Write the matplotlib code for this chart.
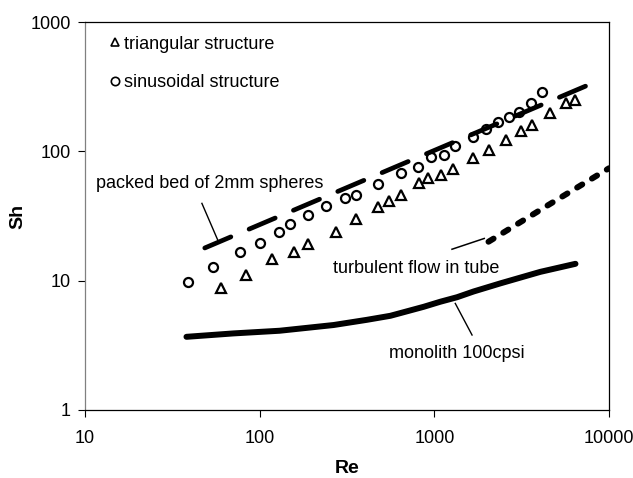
import matplotlib
matplotlib.use("Agg")
import matplotlib.pyplot as plt
from matplotlib.lines import Line2D

plt.rcParams['font.family'] = ['Liberation Sans', 'DejaVu Sans']

# ---- data ----
re_sin = [38.9, 54, 77, 100, 129, 150, 189, 240, 306, 357, 474, 645, 803, 958, 1140,
          1318, 1656, 1974, 2300, 2683, 3060, 3572, 4125]
sh_sin = [9.8, 12.8, 16.7, 19.5, 23.9, 27.2, 32.1, 37.8, 43.4, 45.9, 55.8, 67.6, 76,
          90.8, 93.6, 110, 128, 148, 169, 185, 202, 235, 289]

re_tri = [60, 83, 118, 157, 189, 274, 354, 474, 553, 645, 813, 915, 1092, 1272, 1656,
          2061, 2588, 3126, 3645, 4582, 5657, 6395]
sh_tri = [8.7, 11.0, 14.6, 16.7, 19.2, 23.9, 29.8, 37.3, 41.5, 45.9, 57.1, 61.9, 65.6,
          72.6, 88.3, 102, 122, 144, 160, 197, 238, 250]

re_bed = [48.5, 8200]
sh_bed = [17.9, 340]

re_turb_thin = [1262, 1931]
sh_turb_thin = [17.5, 21.2]
re_turb = [2042, 4500, 10000]
sh_turb = [20.0, 38.5, 74]

re_mono = [38.1, 70.8, 130, 265, 411, 560, 869, 1081, 1350, 1679, 2388, 4045, 6427]
sh_mono = [3.68, 3.91, 4.10, 4.54, 4.98, 5.35, 6.28, 6.87, 7.45, 8.25, 9.53, 11.7, 13.5]

x_ticks = [10, 100, 1000, 10000]
y_ticks = [1, 10, 100, 1000]

fig = plt.figure(figsize=(6.33, 4.78), dpi=100)
ax = fig.add_axes([85/633, (478-410)/478, (609-85)/633, (410-22)/478])
ax.set_xscale('log')
ax.set_yscale('log')
ax.set_xlim(10, 10000)
ax.set_ylim(1, 1000)

# packed bed (long dashes)
ax.plot(re_bed, sh_bed, color='black', lw=3.4, linestyle=(0, (6, 4.2)),
        dash_capstyle='round')
# turbulent flow in tube
ax.plot(re_turb_thin, sh_turb_thin, color='black', lw=1.1)
ax.plot(re_turb, sh_turb, color='black', lw=4.3, linestyle=(0, (1.0, 1.9)),
        dash_capstyle='round')
# monolith
ax.plot(re_mono, sh_mono, color='black', lw=4.3, solid_capstyle='round',
        solid_joinstyle='round')

# data points
ax.plot(re_tri, sh_tri, linestyle='none', marker='^', ms=7, mfc='none',
        mec='black', mew=1.6)
ax.plot(re_sin, sh_sin, linestyle='none', marker='o', ms=6.5, mfc='none',
        mec='black', mew=1.6)

# annotations
ax.text(11.56, 56.6, 'packed bed of 2mm spheres', fontsize=13, ha='left', va='center')
ax.plot([46.7, 58.1], [39.6, 20.0], color='black', lw=1.0)
ax.text(264, 12.5, 'turbulent flow in tube', fontsize=13, ha='left', va='center')
ax.text(552, 2.74, 'monolith 100cpsi', fontsize=13, ha='left', va='center')
ax.plot([1318, 1644], [6.67, 3.80], color='black', lw=1.0)

# legend
handles = [Line2D([], [], linestyle='none', marker='^', ms=6, mfc='none', mec='black', mew=1.2),
           Line2D([], [], linestyle='none', marker='o', ms=6, mfc='none', mec='black', mew=1.2)]
ax.legend(handles, ['triangular structure', 'sinusoidal structure'], loc='upper left',
          bbox_to_anchor=(0.044, 0.965), frameon=False, fontsize=13,
          handlelength=0.8, handletextpad=0.1, labelspacing=1.18,
          borderpad=0, borderaxespad=0)

ax.set_xticks(x_ticks)
ax.set_xticklabels([str(v) for v in x_ticks])
ax.set_yticks(y_ticks)
ax.set_yticklabels([str(v) for v in y_ticks])
ax.minorticks_off()
ax.tick_params(axis='both', direction='out', length=5, width=0.8, labelsize=13,
               colors='black')
ax.tick_params(axis='x', pad=9.5)
ax.tick_params(axis='y', pad=5)
for s in ['top', 'right', 'bottom']:
    ax.spines[s].set_color('black')
    ax.spines[s].set_linewidth(0.9)
ax.spines['left'].set_color('#808080')
ax.spines['left'].set_linewidth(0.9)

ax.set_xlabel('Re', fontsize=14, fontweight='bold', labelpad=9)
ax.set_ylabel('Sh', fontsize=14, fontweight='bold', labelpad=3)

fig.savefig('out.png', dpi=100)
